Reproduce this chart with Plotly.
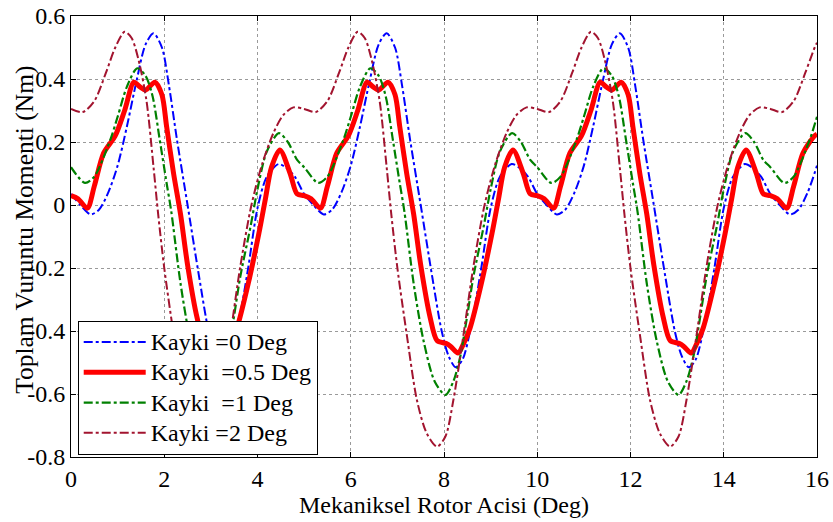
import plotly.graph_objects as go

# ---- data ----
blue_x = [0, 0.2, 0.42, 0.6, 0.8, 1.0, 1.2, 1.4, 1.6, 1.77, 1.95, 2.1, 2.27, 2.5, 2.75, 2.95, 3.1, 3.25, 3.4, 3.6, 3.8, 4.0, 4.2, 4.45, 4.6, 4.8,
          5.0, 5.2, 5.42, 5.6, 5.8, 6.0, 6.2, 6.4, 6.6, 6.77, 6.95, 7.1, 7.27, 7.5, 7.75, 7.95, 8.1, 8.25, 8.4, 8.6, 8.8, 9.0, 9.2, 9.45, 9.6, 9.8,
          10.0, 10.2, 10.42, 10.6, 10.8, 11.0, 11.2, 11.4, 11.6, 11.77, 11.95, 12.1, 12.27, 12.5, 12.75, 12.95, 13.1, 13.25, 13.4, 13.6, 13.8, 14.0, 14.2, 14.45, 14.6, 14.8,
          15.0, 15.2, 15.42, 15.6, 15.8, 16.0]
blue_y = [0.035, 0.0, -0.03, -0.015, 0.04, 0.125, 0.25, 0.39, 0.51, 0.545, 0.5, 0.38, 0.21, 0.0, -0.23, -0.4, -0.48, -0.515, -0.49, -0.37, -0.2, -0.01, 0.09, 0.13, 0.12, 0.09,
          0.035, 0.0, -0.03, -0.015, 0.04, 0.125, 0.25, 0.39, 0.51, 0.545, 0.5, 0.38, 0.21, 0.0, -0.23, -0.4, -0.48, -0.515, -0.49, -0.37, -0.2, -0.01, 0.09, 0.13, 0.12, 0.09,
          0.035, 0.0, -0.03, -0.015, 0.04, 0.125, 0.25, 0.39, 0.51, 0.545, 0.5, 0.38, 0.21, 0.0, -0.23, -0.4, -0.48, -0.515, -0.49, -0.37, -0.2, -0.01, 0.09, 0.13, 0.12, 0.09,
          0.035, 0.0, -0.03, -0.015, 0.04, 0.125]

red_x = [0, 0.15, 0.35, 0.5, 0.7, 0.95, 1.15, 1.35, 1.48, 1.6, 1.8, 1.95, 2.05, 2.2, 2.35, 2.5, 2.7, 2.85, 3.05, 3.15, 3.3, 3.42, 3.56, 3.8, 4.03, 4.17, 4.3, 4.48, 4.7, 4.85,
         5.0, 5.15, 5.35, 5.5, 5.7, 5.95, 6.15, 6.35, 6.48, 6.6, 6.8, 6.95, 7.05, 7.2, 7.35, 7.5, 7.7, 7.85, 8.05, 8.15, 8.3, 8.42, 8.56, 8.8, 9.03, 9.17, 9.3, 9.48, 9.7, 9.85,
         10.0, 10.15, 10.35, 10.5, 10.7, 10.95, 11.15, 11.35, 11.48, 11.6, 11.8, 11.95, 12.05, 12.2, 12.35, 12.5, 12.7, 12.85, 13.05, 13.15, 13.3, 13.42, 13.56, 13.8, 14.03, 14.17, 14.3, 14.48, 14.7, 14.85,
         15.0, 15.15, 15.35, 15.5, 15.7, 15.95, 16.0]
red_y = [0.03, 0.02, -0.01, 0.06, 0.165, 0.22, 0.3, 0.39, 0.375, 0.365, 0.39, 0.35, 0.25, 0.1, -0.03, -0.19, -0.355, -0.43, -0.44, -0.45, -0.47, -0.44, -0.39, -0.25, -0.09, 0.02, 0.12, 0.175, 0.1, 0.035,
         0.03, 0.02, -0.01, 0.06, 0.165, 0.22, 0.3, 0.39, 0.375, 0.365, 0.39, 0.35, 0.25, 0.1, -0.03, -0.19, -0.355, -0.43, -0.44, -0.45, -0.47, -0.44, -0.39, -0.25, -0.09, 0.02, 0.12, 0.175, 0.1, 0.035,
         0.03, 0.02, -0.01, 0.06, 0.165, 0.22, 0.3, 0.39, 0.375, 0.365, 0.39, 0.35, 0.25, 0.1, -0.03, -0.19, -0.355, -0.43, -0.44, -0.45, -0.47, -0.44, -0.39, -0.25, -0.09, 0.02, 0.12, 0.175, 0.1, 0.035,
         0.03, 0.02, -0.01, 0.06, 0.165, 0.22, 0.225]

green_x = [0, 0.3, 0.5, 0.84, 1.0, 1.2, 1.42, 1.6, 1.75, 1.9, 2.05, 2.15, 2.35, 2.56, 2.8, 3.03, 3.2, 3.35, 3.5, 3.63, 3.85, 4.0, 4.2, 4.46, 4.65, 4.85,
           5.0, 5.3, 5.5, 5.84, 6.0, 6.2, 6.42, 6.6, 6.75, 6.9, 7.05, 7.15, 7.35, 7.56, 7.8, 8.03, 8.2, 8.35, 8.5, 8.63, 8.85, 9.0, 9.2, 9.46, 9.65, 9.85,
           10.0, 10.3, 10.5, 10.84, 11.0, 11.2, 11.42, 11.6, 11.75, 11.9, 12.05, 12.15, 12.35, 12.56, 12.8, 13.03, 13.2, 13.35, 13.5, 13.63, 13.85, 14.0, 14.2, 14.46, 14.65, 14.85,
           15.0, 15.3, 15.5, 15.84, 16.0]
green_y = [0.12, 0.07, 0.09, 0.206, 0.28, 0.376, 0.434, 0.41, 0.345, 0.21, 0.07, -0.02, -0.25, -0.43, -0.56, -0.603, -0.56, -0.48, -0.35, -0.228, -0.069, 0.05, 0.17, 0.228, 0.2, 0.143,
           0.12, 0.07, 0.09, 0.206, 0.28, 0.376, 0.434, 0.41, 0.345, 0.21, 0.07, -0.02, -0.25, -0.43, -0.56, -0.603, -0.56, -0.48, -0.35, -0.228, -0.069, 0.05, 0.17, 0.228, 0.2, 0.143,
           0.12, 0.07, 0.09, 0.206, 0.28, 0.376, 0.434, 0.41, 0.345, 0.21, 0.07, -0.02, -0.25, -0.43, -0.56, -0.603, -0.56, -0.48, -0.35, -0.228, -0.069, 0.05, 0.17, 0.228, 0.2, 0.143,
           0.12, 0.07, 0.09, 0.206, 0.28]

purple_x = [0, 0.25, 0.5, 0.75, 0.95, 1.15, 1.3, 1.45, 1.62, 1.77, 1.87, 2.0, 2.2, 2.42, 2.63, 2.85, 3.03, 3.2, 3.42, 3.63, 3.87, 4.1, 4.34, 4.55, 4.77,
            5.0, 5.25, 5.5, 5.75, 5.95, 6.15, 6.3, 6.45, 6.62, 6.77, 6.87, 7.0, 7.2, 7.42, 7.63, 7.85, 8.03, 8.2, 8.42, 8.63, 8.87, 9.1, 9.34, 9.55, 9.77,
            10.0, 10.25, 10.5, 10.75, 10.95, 11.15, 11.3, 11.45, 11.62, 11.77, 11.87, 12.0, 12.2, 12.42, 12.63, 12.85, 13.03, 13.2, 13.42, 13.63, 13.87, 14.1, 14.34, 14.55, 14.77,
            15.0, 15.25, 15.5, 15.75, 15.95, 16.0]
purple_y = [0.305, 0.295, 0.33, 0.42, 0.5, 0.55, 0.53, 0.46, 0.33, 0.12, -0.03, -0.2, -0.41, -0.62, -0.725, -0.767, -0.735, -0.62, -0.41, -0.196, 0.0, 0.13, 0.228, 0.285, 0.31,
            0.305, 0.295, 0.33, 0.42, 0.5, 0.55, 0.53, 0.46, 0.33, 0.12, -0.03, -0.2, -0.41, -0.62, -0.725, -0.767, -0.735, -0.62, -0.41, -0.196, 0.0, 0.13, 0.228, 0.285, 0.31,
            0.305, 0.295, 0.33, 0.42, 0.5, 0.55, 0.53, 0.46, 0.33, 0.12, -0.03, -0.2, -0.41, -0.62, -0.725, -0.767, -0.735, -0.62, -0.41, -0.196, 0.0, 0.13, 0.228, 0.285, 0.31,
            0.305, 0.295, 0.33, 0.42, 0.5, 0.515]

series_names = ["Kayki =0 Deg", "Kayki\u00a0 =0.5 Deg", "Kayki\u00a0 =1 Deg", "Kayki =2 Deg"]
x_ticks = [0, 2, 4, 6, 8, 10, 12, 14, 16]
y_ticks = [-0.8, -0.6, -0.4, -0.2, 0, 0.2, 0.4, 0.6]
y_tick_text = ["-0.8", "-0.6", "-0.4", "-0.2", "0", "0.2", "0.4", "0.6"]

FONT = "Liberation Serif"
FS = 24

fig = go.Figure()
traces = [
    (blue_x, blue_y, "#0000FF", 2, "dashdot"),
    (red_x, red_y, "#FF0000", 5, "solid"),
    (green_x, green_y, "#008000", 2.2, "dashdot"),
    (purple_x, purple_y, "#A2142F", 2, "dashdot"),
]
for (xs, ys, col, w, dash), name in zip(traces, series_names):
    fig.add_trace(go.Scatter(x=xs, y=ys, mode="lines",
                             name='<span style="font-size:24px">' + name + '</span>',
                             line=dict(color=col, width=w, dash=dash, shape="spline", smoothing=0.8)))

axis_common = dict(showline=True, linecolor="black", linewidth=1, mirror="ticks",
                   ticks="inside", ticklen=5, tickcolor="black", automargin=False,
                   showgrid=True, gridcolor="#9a9a9a", griddash="dot", gridwidth=1,
                   zeroline=False, tickfont=dict(family=FONT, size=FS, color="black"))

fig.update_layout(
    width=833, height=522,
    margin=dict(l=71, r=16, t=16, b=65),
    paper_bgcolor="white", plot_bgcolor="white",
    font=dict(family=FONT, size=FS, color="black"),
    xaxis=dict(range=[0, 16], tickvals=x_ticks, **axis_common,
               title=dict(text="Mekaniksel Rotor Acisi (Deg)", font=dict(family=FONT, size=FS), standoff=2)),
    yaxis=dict(range=[-0.8, 0.6], tickvals=y_ticks, ticktext=y_tick_text, **axis_common),
    legend=dict(x=0.009, y=0.005, xanchor="left", yanchor="bottom",
                bgcolor="white", bordercolor="black", borderwidth=1, itemwidth=62,
                font=dict(family=FONT, size=21, color="black")),
    showlegend=True,
)
fig.add_annotation(text="Toplam Vuruntu Momenti (Nm)", xref="paper", yref="paper",
                   x=-0.0617, y=0.515, xanchor="center", yanchor="middle",
                   textangle=-90, showarrow=False, font=dict(family=FONT, size=25.5, color="black"))

fig.write_html("out.html")
